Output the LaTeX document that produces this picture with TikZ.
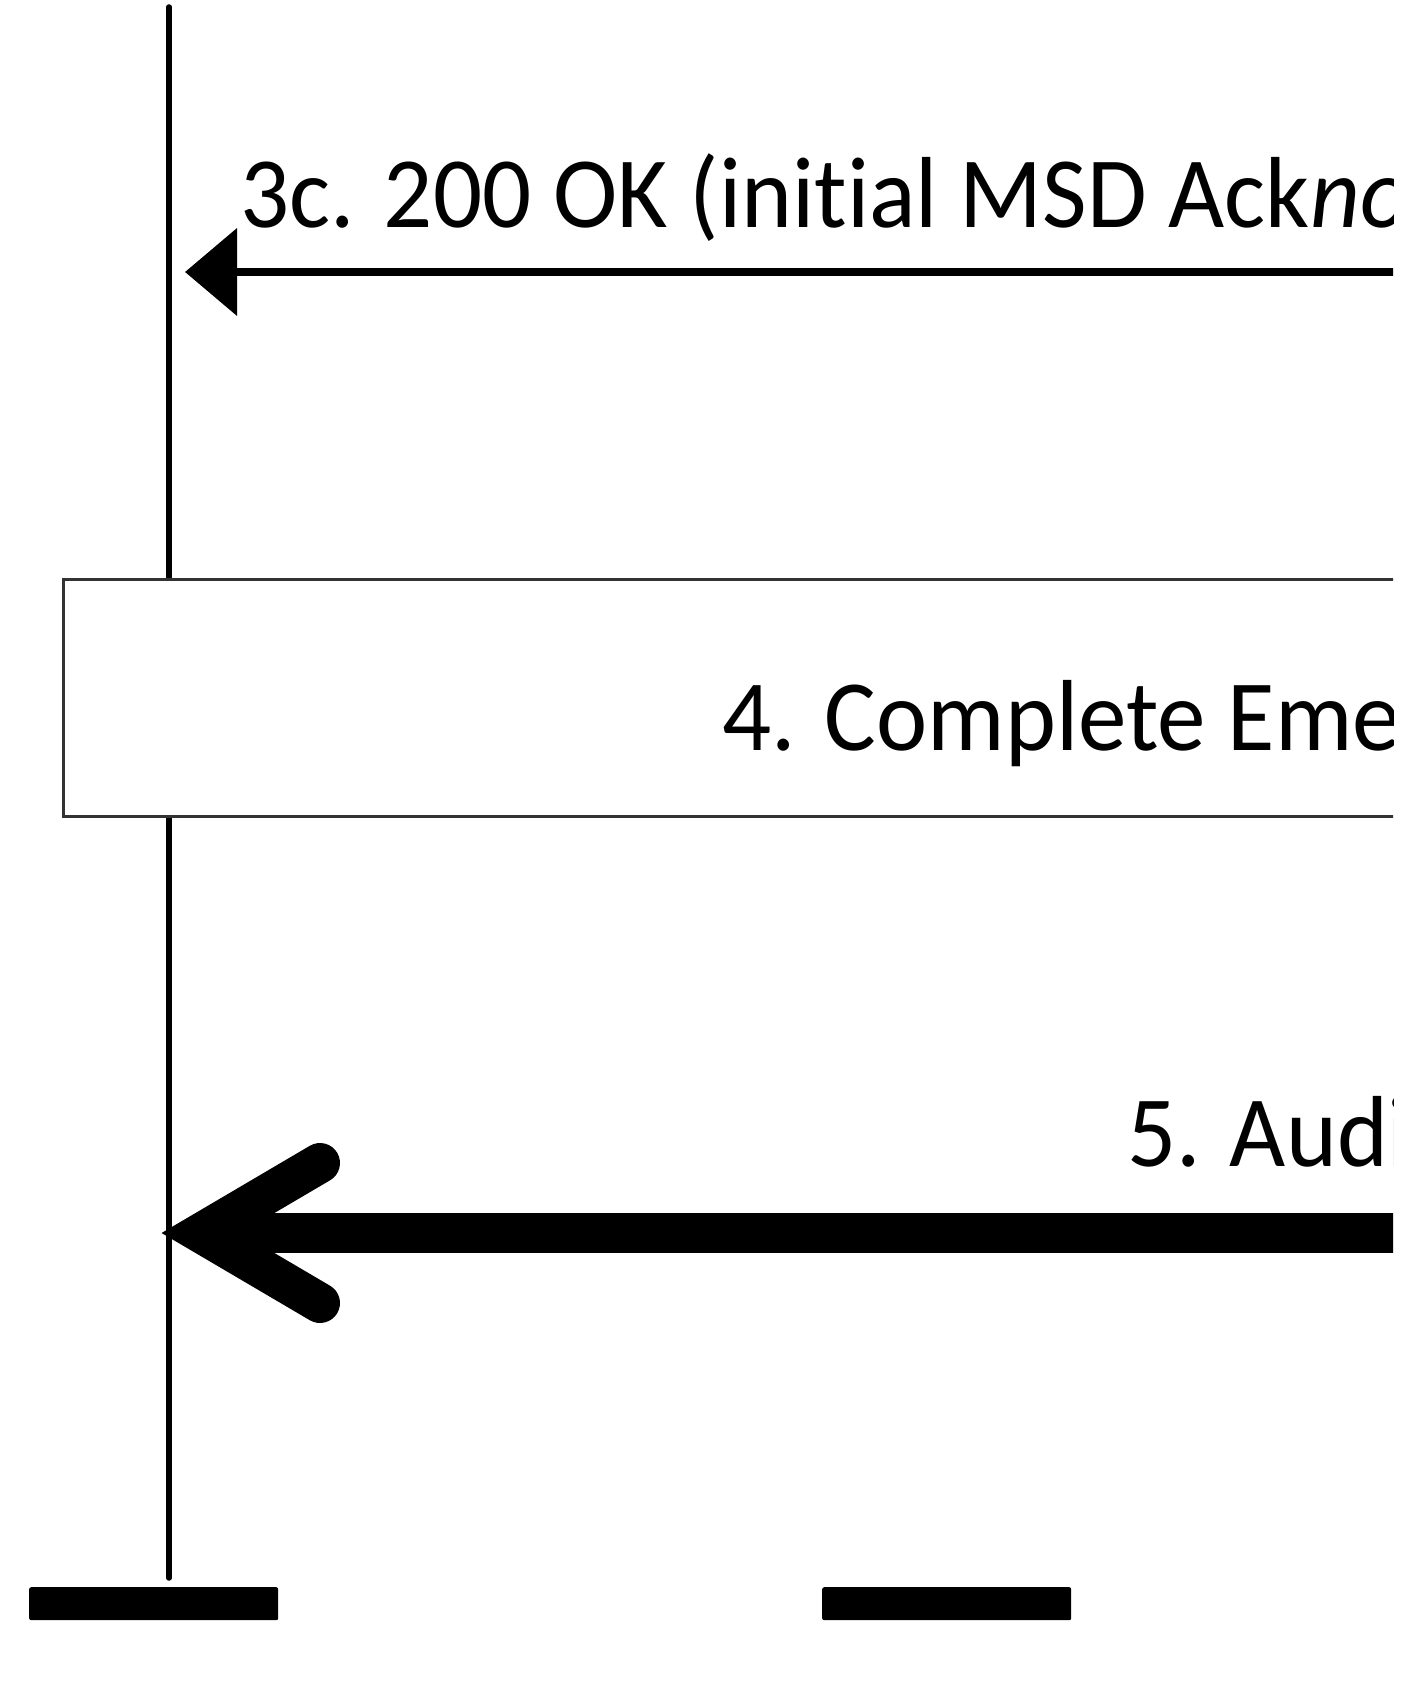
\documentclass[tikz,border=0pt]{standalone}
\usepackage{fontspec}
\setmainfont{Carlito}[Ligatures=NoCommon]
\usetikzlibrary{arrows.meta}
\begin{document}
\begin{tikzpicture}[x=1pt,y=-1pt,
  lbl/.style={anchor=base west, inner sep=0pt, xscale=0.96, font=\fontsize{101}{120}\selectfont},
  lifeline/.style={line width=5.5pt, line cap=round},
  msg/.style={line width=8pt},
  phase/.style={draw=black!80, line width=2.5pt, fill=white, inner sep=0pt},
  bigmsg/.style={line width=40pt},
  endbar/.style={fill=black, rounded corners=2pt, inner sep=0pt}]
\useasboundingbox (0,0) rectangle (1417,1707);
\begin{scope}
\clip (0,0) rectangle (1393,1707);
\coordinate (ueTop) at (169,7);
\coordinate (ueBot) at (169,1578);
\draw[lifeline] (ueTop) -- (ueBot);
% 3c
\coordinate (m3cR) at (1420,272);
\coordinate (m3cL) at (185,272);
\draw[msg, -{Triangle[length=52pt,width=86pt]}] (m3cR) -- (m3cL);
\node[lbl] (t3c) at (240,227) {3c. 200 OK (initial MSD Ack\textit{no}};
% 4
\node[phase, anchor=north west, minimum width=1400pt, minimum height=237pt] (box4) at (62,578) {};
\node[lbl] (t4) at (722,750) {4. Complete Eme};
% 5
\coordinate (m5R) at (1420,1233);
\coordinate (m5V) at (201,1233);
\coordinate (m5a) at (320,1163);
\coordinate (m5b) at (320,1303);
\draw[bigmsg] (m5R) -- (m5V);
\draw[bigmsg, line cap=round, miter limit=10] (m5a) -- (m5V) -- (m5b);
\node[lbl] (t5) at (1127,1166) {5. Audi};
% end bars
\node[endbar, anchor=north west, minimum width=249pt, minimum height=33pt] (bar1) at (29,1587) {};
\node[endbar, anchor=north west, minimum width=249pt, minimum height=33pt] (bar2) at (822,1587) {};
\end{scope}
\end{tikzpicture}
\end{document}
